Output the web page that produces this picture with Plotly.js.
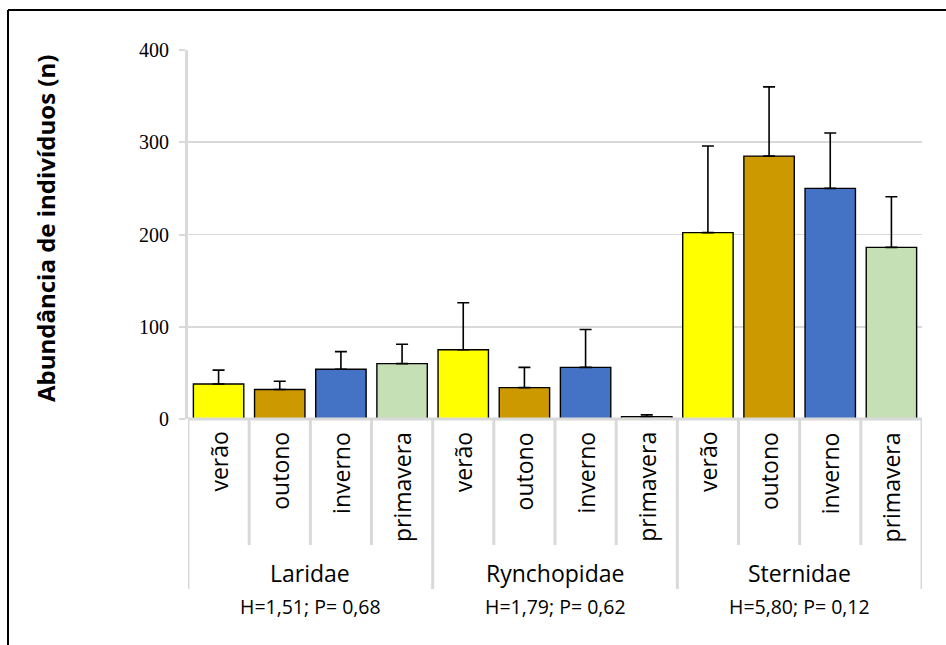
<!DOCTYPE html>
<html>
<head>
<meta charset="utf-8">
<script src="https://cdn.plot.ly/plotly-3.0.1.min.js"></script>
<style>
html,body{margin:0;padding:0;background:#fff;}
#chart{width:946px;height:645px;}
</style>
</head>
<body>
<div id="chart"></div>
<script>
// ---- data ----
const families = ["Laridae", "Rynchopidae", "Sternidae"];
const stats = ["H=1,51; P= 0,68", "H=1,79; P= 0,62", "H=5,80; P= 0,12"];
const seasons = ["verão", "outono", "inverno", "primavera"];
const seasonColors = ["#FFFF00", "#CC9900", "#4472C4", "#C5E0B4"];
const laridaeMean = [38, 32, 54, 60];
const laridaeErr = [15, 9, 19, 21];
const rynchopidaeMean = [75, 34, 56, 2.5];
const rynchopidaeErr = [51, 22, 41, 2];
const sternidaeMean = [202, 285, 250, 186];
const sternidaeErr = [94, 75, 60, 55];
const yTicks = [0, 100, 200, 300, 400];

// ---- build ----
const means = [laridaeMean, rynchopidaeMean, sternidaeMean];
const errs = [laridaeErr, rynchopidaeErr, sternidaeErr];
const xs = [], ys = [], es = [], cols = [], zeros = [];
let k = 0;
families.forEach((f, fi) => {
  seasons.forEach((s, si) => {
    xs.push(k); ys.push(means[fi][si]); es.push(errs[fi][si]);
    cols.push(seasonColors[si]); zeros.push(0); k++;
  });
});
const nCat = xs.length;

// layout geometry (pixels)
const W = 946, H = 645, ML = 188, MR = 24, MT = 50, MB = 226;
const PW = W - ML - MR, PH = H - MT - MB;
const px = p => (p - ML) / PW;            // pixel x -> paper
const py = p => (H - MB - p) / PH;        // pixel y -> paper

const grid = "#d9d9d9";
const shapes = [];
// category axis baseline
shapes.push({type:"line", xref:"x", yref:"paper", x0:-0.5, x1:nCat-0.5, y0:0, y1:0,
  line:{color:grid, width:3}, layer:"above"});
// separators
for (let i = 0; i <= nCat; i++) {
  const isGroup = (i % seasons.length === 0);
  shapes.push({type:"line", xref:"x", yref:"paper", x0:i-0.5, x1:i-0.5,
    y0:0, y1: isGroup ? py(589) : py(545), line:{color:grid, width:3}});
}
// outer frame (top & left)
shapes.push({type:"line", xref:"paper", yref:"paper", x0:px(8), x1:px(8), y0:py(10), y1:py(650), line:{color:"#000", width:2}});
shapes.push({type:"line", xref:"paper", yref:"paper", x0:px(8), x1:px(950), y0:py(10), y1:py(10), line:{color:"#000", width:2}});

const annotations = [];
const sans = "Open Sans, Lato, sans-serif";
xs.forEach((x, i) => {
  annotations.push({xref:"x", yref:"paper", x:x, y:py(430), text:seasons[i % seasons.length],
    textangle:-90, showarrow:false, xanchor:"center", yanchor:"top",
    font:{family:sans, size:23, color:"#000"}});
});
families.forEach((f, fi) => {
  const cx = fi * seasons.length + (seasons.length - 1) / 2;
  annotations.push({xref:"x", yref:"paper", x:cx, y:py(573), text:f, showarrow:false,
    xanchor:"center", yanchor:"middle", font:{family:sans, size:23, color:"#000"}});
  annotations.push({xref:"x", yref:"paper", x:cx, y:py(606), text:stats[fi], showarrow:false,
    xanchor:"center", yanchor:"middle", font:{family:sans, size:19.5, color:"#000"}});
});
annotations.push({xref:"paper", yref:"paper", x:px(45), y:py(229), text:"Abundância de indivíduos (n)",
  textangle:-90, showarrow:false, xanchor:"center", yanchor:"middle",
  font:{family:sans, size:24, color:"#000", weight:"bold"}});

const trace = {
  type:"bar", x:xs, y:ys, width:0.824,
  marker:{color:cols, line:{color:"#000", width:1.4}},
  error_y:{type:"data", symmetric:false, array:es, arrayminus:zeros, visible:true,
    color:"#000", thickness:1.6, width:6},
  hoverinfo:"skip"
};

const layout = {
  width:W, height:H,
  margin:{l:ML, r:MR, t:MT, b:MB, pad:0},
  paper_bgcolor:"#fff", plot_bgcolor:"#fff",
  showlegend:false,
  xaxis:{range:[-0.5, nCat-0.5], showticklabels:false, showgrid:false, zeroline:false, showline:false, ticks:""},
  yaxis:{range:[0, 400], tickvals:yTicks, ticktext:yTicks.map(String),
    showgrid:true, gridcolor:grid, gridwidth:1.6, zeroline:false,
    showline:true, linecolor:grid, linewidth:3,
    ticks:"outside", ticklen:6, tickwidth:2, tickcolor:grid, ticklabelstandoff:6,
    tickfont:{family:"Liberation Serif, Times New Roman, serif", size:20, color:"#000"}},
  shapes:shapes,
  annotations:annotations
};

Plotly.newPlot("chart", [trace], layout, {staticPlot:true, displayModeBar:false});
</script>
</body>
</html>
